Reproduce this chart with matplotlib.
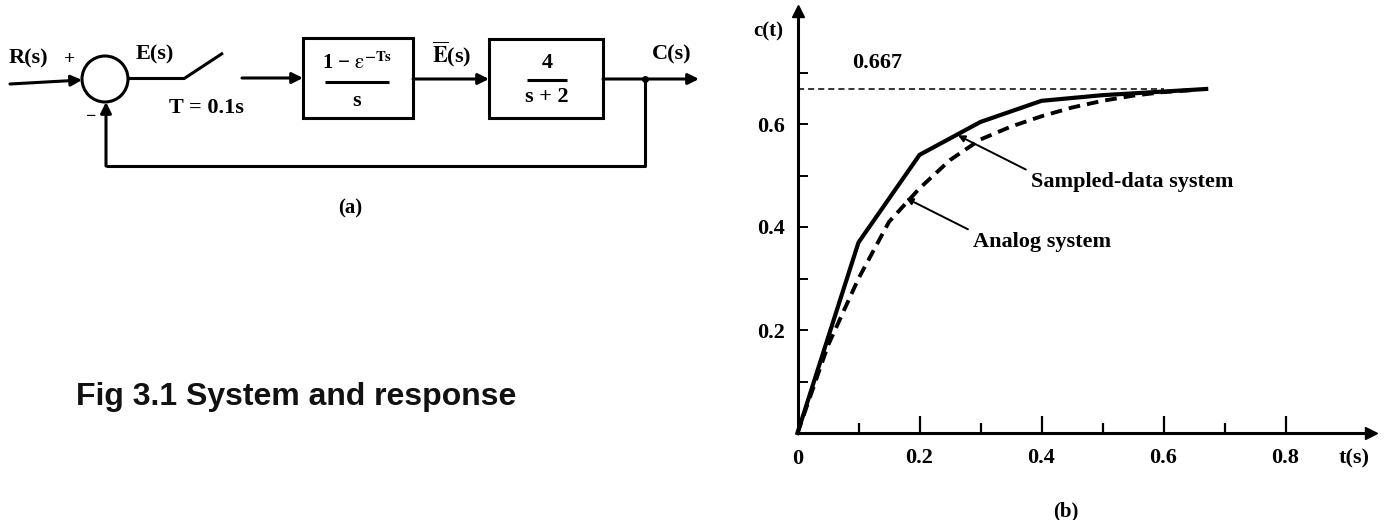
import numpy as np
import matplotlib.pyplot as plt
from matplotlib.patches import Rectangle, Circle

plt.rcParams["mathtext.fontset"] = "stix"

# step response
t_sampled = [0.0, 0.1, 0.2, 0.3, 0.4, 0.5, 0.6, 0.67]
c_sampled = [0.0, 0.37, 0.54, 0.604, 0.645, 0.656, 0.663, 0.668]

t_analog = [0.0, 0.05, 0.1, 0.15, 0.2, 0.25, 0.3, 0.35, 0.4, 0.45, 0.5, 0.55, 0.6, 0.65]
c_analog = [0.0, 0.17, 0.30, 0.41, 0.475, 0.53, 0.57, 0.595, 0.615, 0.632, 0.645, 0.655, 0.662, 0.666]

final_value = 0.667
x_major = [0.2, 0.4, 0.6, 0.8]
x_minor = [0.1, 0.3, 0.5, 0.7]
y_major = [0.2, 0.4, 0.6]
y_minor = [0.1, 0.3, 0.5, 0.7]

W, H = 1384, 520
fig = plt.figure(figsize=(W / 100, H / 100), dpi=100)
fig.patch.set_facecolor("white")

serif = dict(family="Liberation Serif", weight="bold", color="k")
lw = 2.2
fs = 16

# ---- (a) block diagram, drawn in pixel coordinates ----
ax0 = fig.add_axes([0, 0, 1, 1])
ax0.set_xlim(0, W)
ax0.set_ylim(H, 0)
ax0.axis("off")


def arrow(x0, y0, x1, y1):
    ax0.annotate("", xy=(x1, y1), xytext=(x0, y0),
                 arrowprops=dict(arrowstyle="-|>", lw=lw, color="k",
                                 mutation_scale=16, shrinkA=0, shrinkB=0))


def line(xs, ys):
    ax0.plot(xs, ys, color="k", lw=lw, solid_capstyle="butt")


ax0.text(28, 58, "R(s)", ha="center", va="center", fontsize=fs, **serif)
ax0.text(70, 60, "+", ha="center", va="center", fontsize=14, **serif)
ax0.add_patch(Circle((105, 79), 23, fill=False, lw=lw, ec="k"))
arrow(10, 84, 82, 80)
ax0.text(91, 116, "−", ha="center", va="center", fontsize=13, **serif)

ax0.text(155, 54, "E(s)", ha="center", va="center", fontsize=fs, **serif)
line([128, 185], [78, 78])
line([185, 223], [78, 53])
ax0.text(206, 108, "T = 0.1s", ha="center", va="center", fontsize=fs, **serif)
arrow(242, 78, 303, 78)

ax0.add_patch(Rectangle((303, 38), 110, 80, fill=False, lw=lw, ec="k"))
ax0.text(357, 63, r"1 − $\mathrm{\epsilon}^{\mathbf{-Ts}}$", ha="center", va="center",
         fontsize=15, **serif)
line([325, 389], [82, 82])
ax0.text(357, 101, "s", ha="center", va="center", fontsize=fs, **serif)

arrow(413, 79, 489, 79)
ax0.text(452, 54, r"$\overline{\mathbf{E}}$(s)", ha="center", va="center",
         fontsize=fs, **serif)

ax0.add_patch(Rectangle((489, 39), 114, 79, fill=False, lw=lw, ec="k"))
ax0.text(547, 63, "4", ha="center", va="center", fontsize=fs, **serif)
line([527, 567], [80, 80])
ax0.text(547, 97, "s + 2", ha="center", va="center", fontsize=fs, **serif)

arrow(603, 79, 699, 79)
ax0.plot(645, 79, "o", color="k", ms=4)
ax0.text(672, 54, "C(s)", ha="center", va="center", fontsize=fs, **serif)

line([645, 645, 106], [79, 166, 166])
arrow(106, 166, 106, 102)

ax0.text(350, 208, "(a)", ha="center", va="center", fontsize=15, **serif)
ax0.text(76, 397, "Fig 3.1 System and response", ha="left", va="center",
         fontsize=23, family="Liberation Sans", weight="bold", color="#111111")

# ---- (b) response plot ----
x0_px, y0_px = 797.5, 433
sx, sy = 610, 515  # pixels per unit
xmax, ymax = 0.94, 0.82
ax = fig.add_axes([x0_px / W, (H - y0_px) / H, xmax * sx / W, ymax * sy / H])
ax.set_facecolor("none")
ax.set_xlim(0, xmax)
ax.set_ylim(0, ymax)
for s in ["top", "right"]:
    ax.spines[s].set_visible(False)
for s in ["left", "bottom"]:
    ax.spines[s].set_linewidth(2.2)
ax.plot(1, 0, ">k", ms=9, transform=ax.get_yaxis_transform(), clip_on=False)
ax.plot(0, 1, "^k", ms=9, transform=ax.get_xaxis_transform(), clip_on=False)

ax.set_xticks(x_major)
ax.set_xticklabels([f"{v:.1f}" for v in x_major])
ax.set_xticks(x_minor, minor=True)
ax.set_yticks(y_major)
ax.set_yticklabels([f"{v:.1f}" for v in y_major])
ax.set_yticks(y_minor, minor=True)
ax.tick_params(axis="x", which="major", direction="in", length=12, width=1.6, pad=11)
ax.tick_params(axis="x", which="minor", direction="in", length=7, width=1.6)
ax.tick_params(axis="y", which="both", direction="in", length=7, width=1.4, pad=9)
for lab in ax.get_xticklabels() + ax.get_yticklabels():
    lab.set_fontfamily("Liberation Serif")
    lab.set_fontweight("bold")
    lab.set_fontsize(fs)

ax.plot(t_sampled, c_sampled, color="k", lw=3.0, solid_joinstyle="miter", clip_on=False)
ax.plot(t_analog, c_analog, color="k", lw=2.8, dashes=(3.0, 1.8), clip_on=False)
ax.plot([0, 0.6], [final_value, final_value], color="k", lw=1.1, dashes=(4, 2.6))

ax.text(0.131, 0.718, "0.667", ha="center", va="center", fontsize=fs, **serif)
ax.text(-0.048, 0.779, "c(t)", ha="center", va="center", fontsize=15, **serif)
ax.text(0.0, -0.05, "0", ha="center", va="center", fontsize=fs, **serif)
ax.text(0.912, -0.05, "t(s)", ha="center", va="center", fontsize=fs, **serif)
ax.text(0.44, -0.153, "(b)", ha="center", va="center", fontsize=15, **serif)

arrow_kw = dict(arrowstyle="-|>", lw=1.4, color="k", mutation_scale=10, shrinkA=2, shrinkB=0)
ax.annotate("Sampled-data system", xy=(0.263, 0.578), xytext=(0.383, 0.487),
            ha="left", va="center", fontsize=fs, arrowprops=dict(relpos=(0, 1), **arrow_kw),
            **serif)
ax.annotate("Analog system", xy=(0.178, 0.456), xytext=(0.288, 0.371),
            ha="left", va="center", fontsize=fs, arrowprops=dict(relpos=(0, 1), **arrow_kw),
            **serif)

fig.savefig("out.png", dpi=100, facecolor="white")
